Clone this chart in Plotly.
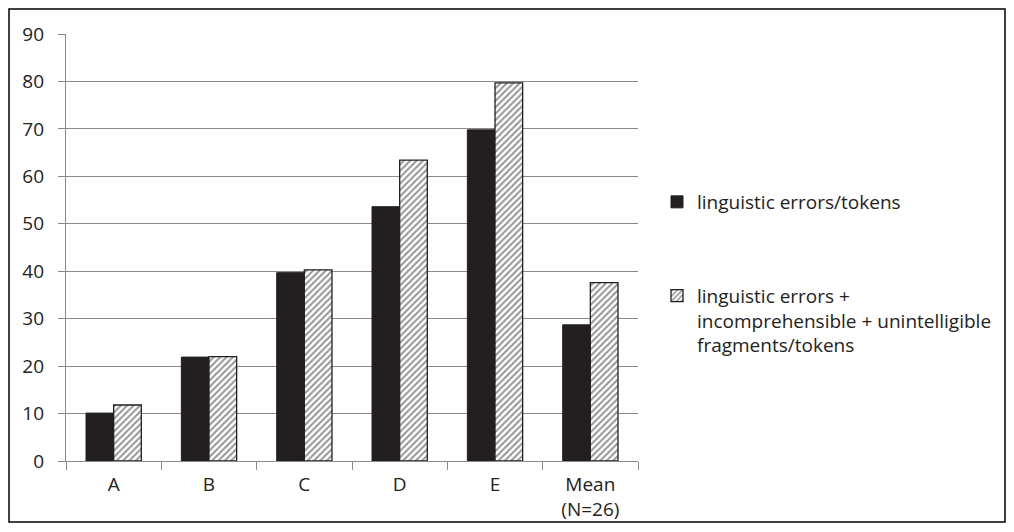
import plotly.graph_objects as go

categories = ["A", "B", "C", "D", "E", "Mean<br>(N=26)"]
errors_tokens = [10.1, 21.9, 39.7, 53.6, 69.8, 28.7]
errors_all_tokens = [11.8, 22.0, 40.3, 63.4, 79.7, 37.6]
series_names = ["linguistic errors/tokens",
                "linguistic errors +<br>incomprehensible + unintelligible<br>fragments/tokens"]
y_ticks = [0, 10, 20, 30, 40, 50, 60, 70, 80, 90]

W, H = 1014, 532
OFF = 8  # page body margin
L, R, T, B = 66 - OFF, 638 - OFF, 34 - OFF, 461 - OFF
pw, ph = R - L, B - T

def px_x(p):
    return (p - OFF - L) / pw

def px_y(p):
    return (B - (p - OFF)) / ph

font_family = "'Open Sans', sans-serif"
dark = "#231f20"
grid = "#8a8a8a"
fs = 19

fig = go.Figure()
fig.add_trace(go.Bar(
    x=categories, y=errors_tokens, name=series_names[0],
    marker=dict(color=dark, line=dict(color=dark, width=1)),
    legendgroup="g1",
))
fig.add_trace(go.Bar(
    x=categories, y=errors_all_tokens, name=series_names[1],
    marker=dict(color="white", line=dict(color=dark, width=1.3),
                pattern=dict(shape="/", fgcolor="#2a2a2a", bgcolor="white",
                             size=4.5, solidity=0.45)),
    legendgroup="g2",
))

fig.update_layout(
    width=W, height=H,
    margin=dict(l=L, r=W - R, t=T, b=H - B, pad=0, autoexpand=False),
    paper_bgcolor="white", plot_bgcolor="white",
    barmode="group", bargap=0.42, bargroupgap=0,
    font=dict(family=font_family, size=fs, color="#222222"),
    showlegend=True,
    legend=dict(x=px_x(657), y=px_y(183), xanchor="left", yanchor="top",
                tracegroupgap=66, valign="top",
                font=dict(family=font_family, size=fs, color="#222222"),
                itemwidth=30),
    xaxis=dict(showgrid=False, showline=True, linecolor=grid, linewidth=1.3,
               ticks="outside", tickson="boundaries", ticklen=8, tickcolor=grid,
               tickwidth=1.3, ticklabelstandoff=6, tickfont=dict(size=fs)),
    yaxis=dict(range=[0, 90], tickvals=y_ticks, showgrid=True, gridcolor=grid,
               gridwidth=1.3, showline=True, linecolor=grid, linewidth=1.3,
               ticks="outside", ticklen=7, tickcolor=grid, tickwidth=1.3,
               ticklabelstandoff=10,
               zeroline=False, tickfont=dict(size=fs)),
    shapes=[dict(type="rect", xref="paper", yref="paper",
                 x0=px_x(9), x1=px_x(1005), y0=px_y(522), y1=px_y(9),
                 line=dict(color="black", width=1.5), fillcolor="rgba(0,0,0,0)",
                 layer="below")],
)

fig.write_html("out.html")
